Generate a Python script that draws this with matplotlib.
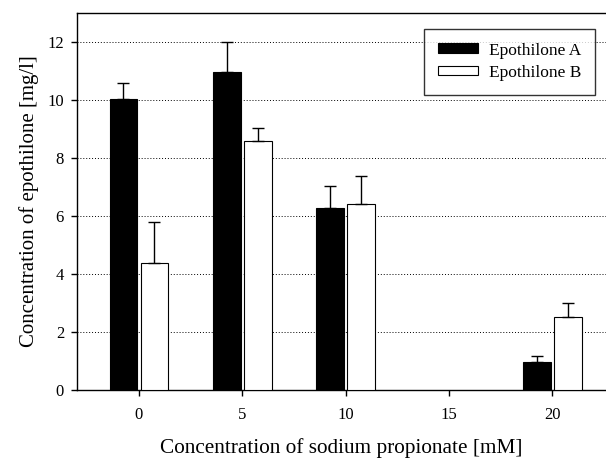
import matplotlib.pyplot as plt
import numpy as np

propionate_mM = [0, 5, 10, 15, 20]
epothilone_a = [10.03, 10.97, 6.27, 0, 0.97]
epothilone_a_err = [0.57, 1.03, 0.78, 0, 0.22]
epothilone_b = [4.38, 8.6, 6.4, 0, 2.52]
epothilone_b_err = [1.43, 0.43, 0.98, 0, 0.48]

plt.rcParams["font.family"] = ["Liberation Serif", "DejaVu Serif"]

fig = plt.figure(figsize=(6.06, 4.59), dpi=100)
ax = fig.add_axes([0.127, 0.150, 0.873, 0.822])

x = np.array(propionate_mM, dtype=float)
width = 1.35
offset = 0.75

# no bars drawn at 15 mM (zero value)
has_data = np.array(epothilone_a) > 0
err_style = dict(ecolor="black", elinewidth=1.0, capsize=4, capthick=1.0)

ax.bar(x[has_data] - offset, np.array(epothilone_a)[has_data], width,
       color="black", edgecolor="black", linewidth=0.8, label="Epothilone A",
       yerr=[np.zeros(has_data.sum()), np.array(epothilone_a_err)[has_data]],
       error_kw=err_style, zorder=3)
ax.bar(x[has_data] + offset, np.array(epothilone_b)[has_data], width,
       color="white", edgecolor="black", linewidth=0.8, label="Epothilone B",
       yerr=[np.zeros(has_data.sum()), np.array(epothilone_b_err)[has_data]],
       error_kw=err_style, zorder=3)

ax.set_xlim(-3, 22.6)
ax.set_ylim(0, 13)
ax.set_xticks(propionate_mM)
ax.set_yticks([0, 2, 4, 6, 8, 10, 12])
ax.tick_params(direction="out", length=4.3, width=1, labelsize=12, pad=5)
ax.tick_params(axis="x", pad=7.5)

for yv in [2, 4, 6, 8, 10, 12]:
    ax.axhline(yv, color="black", linestyle=(0, (1, 2)), linewidth=0.7, zorder=1)

ax.spines["right"].set_visible(False)
for s in ["left", "top", "bottom"]:
    ax.spines[s].set_linewidth(1.0)

ax.set_xlabel("Concentration of sodium propionate [mM]", fontsize=15.3, labelpad=11.5)
ax.set_ylabel("Concentration of epothilone [mg/l]", fontsize=15, labelpad=6)

leg = ax.legend(loc="upper right", bbox_to_anchor=(0.979, 0.958), fontsize=12.5,
                frameon=True, fancybox=False, edgecolor="black",
                handlelength=2.3, handleheight=0.5, borderpad=0.8,
                labelspacing=0.35, handletextpad=0.6, borderaxespad=0)
leg.get_frame().set_linewidth(1.0)

fig.savefig("out.png", dpi=100)
